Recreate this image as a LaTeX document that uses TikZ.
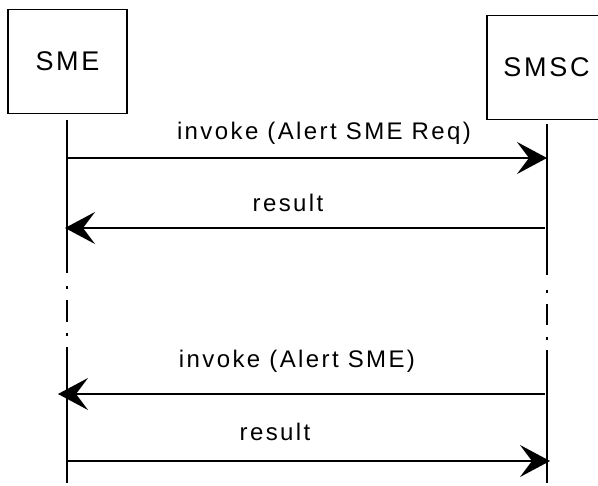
\documentclass[tikz,border=0pt]{standalone}
\usepackage{fontspec}
\setmainfont{Liberation Sans}
\newfontfamily\msgfont[LetterSpace=10]{Liberation Sans}
\usetikzlibrary{arrows.meta}
\tikzset{every path/.style={black,line width=1.5pt}, every node/.style={inner sep=0pt}}
\tikzset{entity/.style={draw, minimum width=119pt, minimum height=104pt, font=\msgfont\fontsize{27}{30}\selectfont},
         msg/.style={-{Stealth[length=30pt,width=32pt,inset=12pt]}},
         msglabel/.style={anchor=base, font=\msgfont\fontsize{24}{28}\selectfont}}

\begin{document}
\begin{tikzpicture}[x=1pt,y=-1pt]
  \useasboundingbox (0,0) rectangle (598,486);
  \begin{scope}
   \node[entity] (sme)  at ( 67.5,61.5) {SME};
   \node[entity] (smsc) at (546.5,67.5) {SMSC};

   \coordinate (smeA)   at ( 67,120);
   \coordinate (smeB)   at ( 67,273);
   \coordinate (smeC)   at ( 67,347);
   \coordinate (smeD)   at ( 67,483);
   \coordinate (smscA)  at (547,124);
   \coordinate (smscB)  at (547,275);
   \coordinate (smscC)  at (547,350);
   \coordinate (smscD)  at (547,483);

   \draw (smeA) -- (smeB);
   \draw (smeC) -- (smeD);
   \draw (smscA) -- (smscB);
   \draw (smscC) -- (smscD);
   \foreach \a/\b in {286/289, 300/322, 333/336}
     \draw ( 67,\a) -- ( 67,\b);
   \foreach \a/\b in {290/293, 304/325, 337/340}
     \draw (547,\a) -- (547,\b);
  \end{scope}
  \begin{scope}
   \coordinate (m1a) at ( 67,158); \coordinate (m1b) at (547,158);
   \coordinate (m2a) at (545,228); \coordinate (m2b) at ( 65,228);
   \coordinate (m3a) at (545,394); \coordinate (m3b) at ( 58,394);
   \coordinate (m4a) at ( 67,461); \coordinate (m4b) at (550,461);

   \draw[msg] (m1a) -- (m1b);
   \draw[msg] (m2a) -- (m2b);
   \draw[msg] (m3a) -- (m3b);
   \draw[msg] (m4a) -- (m4b);

   \node[msglabel] (l1) at (324,140) {invoke (Alert SME Req)};
   \node[msglabel] (l2) at (288,212) {result};
   \node[msglabel] (l3) at (297,368) {invoke (Alert SME)};
   \node[msglabel] (l4) at (275,441) {result};
  \end{scope}
\end{tikzpicture}
\end{document}
